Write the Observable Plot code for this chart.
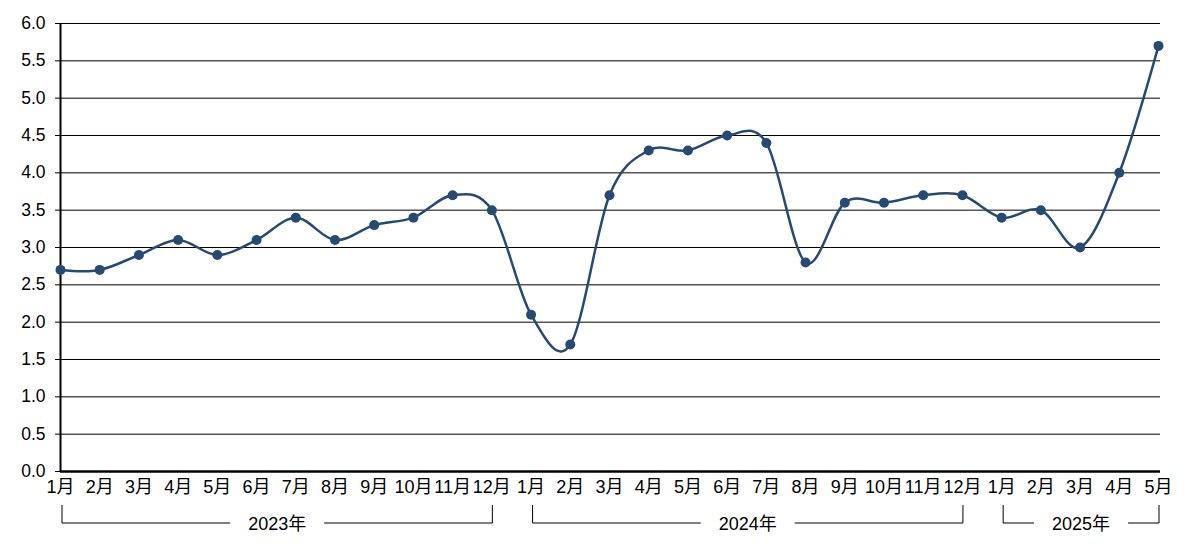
<!DOCTYPE html>
<html><head><meta charset="utf-8">
<script src="https://cdn.jsdelivr.net/npm/d3@7"></script>
<script src="https://cdn.jsdelivr.net/npm/@observablehq/plot@0.6"></script>
<style>body{margin:0;background:#fff}</style>
</head><body><div id="chart"></div>
<script>
const monthLabels = ["1月","2月","3月","4月","5月","6月","7月","8月","9月","10月","11月","12月",
                     "1月","2月","3月","4月","5月","6月","7月","8月","9月","10月","11月","12月",
                     "1月","2月","3月","4月","5月"];
const values = [2.7,2.7,2.9,3.1,2.9,3.1,3.4,3.1,3.3,3.4,3.7,3.5,
                2.1,1.7,3.7,4.3,4.3,4.5,4.4,2.8,3.6,3.6,3.7,3.7,
                3.4,3.5,3.0,4.0,5.7];
const yearLabels = ["2023年","2024年","2025年"];
const yearStart = [0,12,24];
const yearEnd = [11,23,28];
const yTicks = [0,0.5,1,1.5,2,2.5,3,3.5,4,4.5,5,5.5,6];

const color = "#264a72";
const font = "Arial, 'Liberation Sans', 'Noto Sans CJK SC', sans-serif";
const data = values.map((v,i)=>({i, v}));
const n = values.length;

const plot = Plot.plot({
  width: 1186, height: 550,
  marginLeft: 60, marginRight: 26, marginTop: 23, marginBottom: 79,
  style: {fontFamily: font, fontSize: "18px", color: "#000", background: "#fff"},
  x: {domain: [0, n-1], range: [60, 1158]},
  y: {domain: [0, 6]},
  marks: [
    Plot.ruleY(yTicks, {stroke: "#000", strokeWidth: 1}),
    Plot.axisY({ticks: yTicks, tickFormat: d => d.toFixed(1), tickSize: 5, tickPadding: 10, label: null, fontSize: 17.5}),
    Plot.axisX({ticks: d3.range(n), tickFormat: i => monthLabels[i], tickSize: 0, tickPadding: 9, label: null, fontSize: 18}),
    Plot.ruleX([0], {stroke: "#000", strokeWidth: 2}),
    Plot.ruleY([0], {stroke: "#000", strokeWidth: 2.5}),
    Plot.line(data, {x: "i", y: "v", curve: "cardinal", stroke: color, strokeWidth: 2.5}),
    Plot.dot(data, {x: "i", y: "v", r: 5, fill: color})
  ]
});
document.getElementById("chart").appendChild(plot);

const sx = plot.scale("x"), sy = plot.scale("y");
const base = sy.apply(0);
const top_ = base + 34, bot = base + 52;
const svg = d3.select(plot);
const g = svg.append("g").attr("font-family", font).attr("font-size", 18);
yearLabels.forEach((lab, k) => {
  const xa = sx.apply(yearStart[k]) + 2, xb = sx.apply(yearEnd[k]) + 1;
  g.append("path")
    .attr("d", `M${xa},${top_}L${xa},${bot}L${xb},${bot}L${xb},${top_}`)
    .attr("fill", "none").attr("stroke", "#000").attr("stroke-width", 1);
  const rect = g.append("rect").attr("fill", "#fff");
  const t = g.append("text").attr("x", (xa+xb)/2).attr("y", bot+2)
    .attr("text-anchor", "middle").attr("dominant-baseline", "middle").attr("fill", "#000").text(lab);
  const bb = t.node().getBBox();
  rect.attr("x", bb.x - 18).attr("y", bb.y - 2).attr("width", bb.width + 36).attr("height", bb.height + 4);
});
</script>
</body></html>
